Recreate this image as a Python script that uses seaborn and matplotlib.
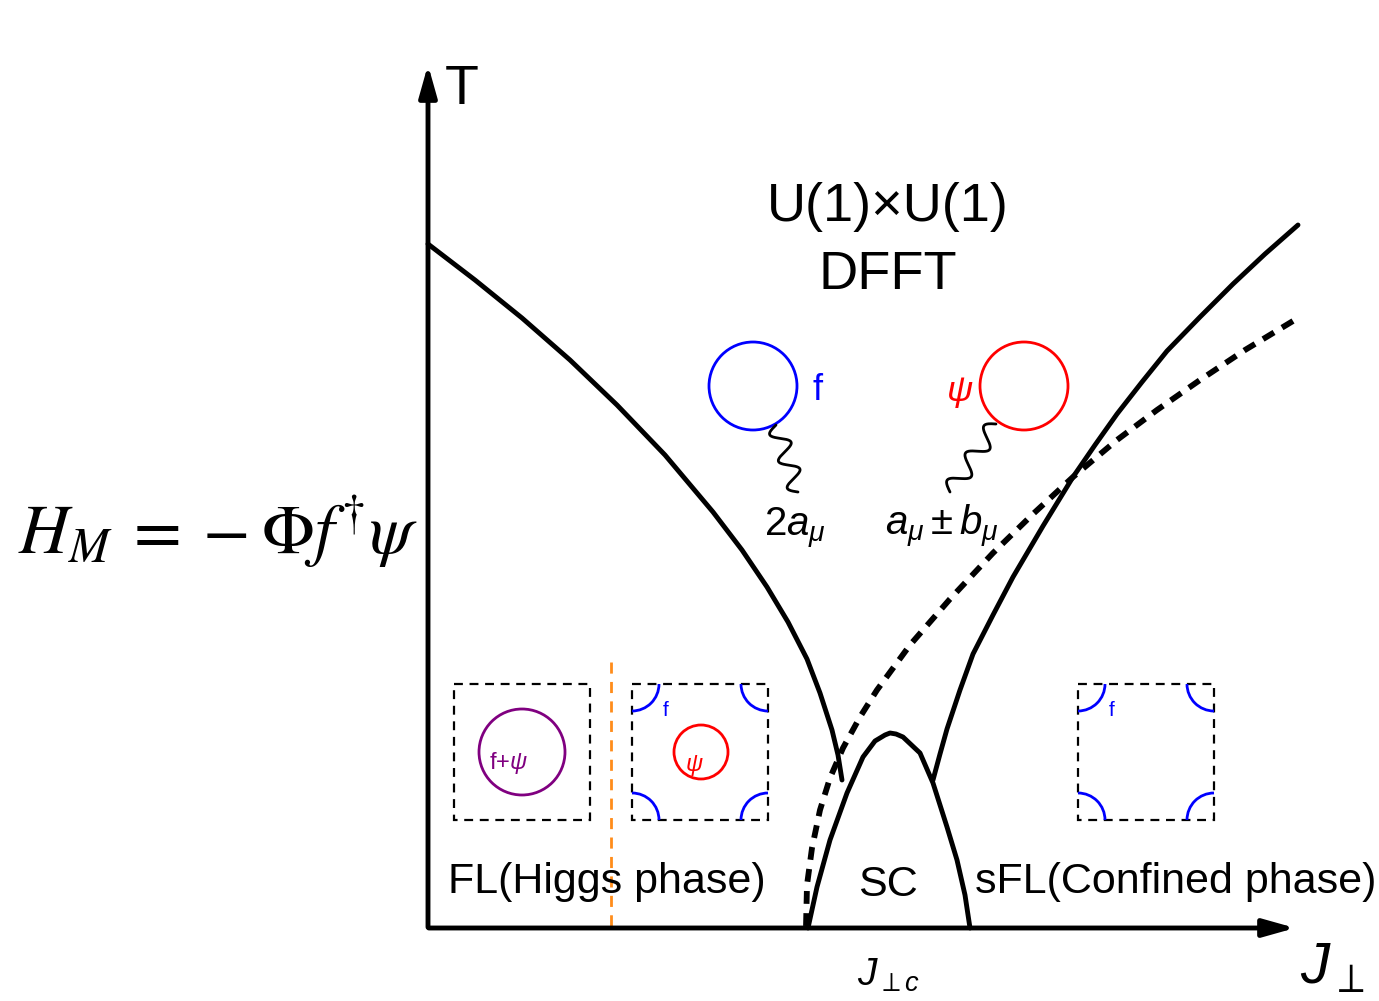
import numpy as np
import pandas as pd
import matplotlib
matplotlib.use("Agg")
import matplotlib.pyplot as plt
import seaborn as sns
from matplotlib.patches import Circle, Rectangle, Arc

# phase boundaries (pixel coordinates, y down)
left_x = [428, 475, 522, 570, 617, 665, 713, 742, 767, 788, 807, 820, 832, 838, 842]
left_y = [244, 280, 318, 360, 405, 455, 512, 550, 587, 622, 659, 693, 730, 755, 780]

right_x = [1298, 1265, 1233, 1200, 1167, 1142, 1117, 1095, 1073, 1043, 1013, 993, 973, 960, 947, 940, 933]
right_y = [225, 254, 284, 317, 351, 382, 414, 445, 477, 526, 577, 615, 654, 690, 729, 754, 780]

dot_x = [1293, 1245, 1200, 1157, 1117, 1073, 1033, 993, 950, 910, 877, 860, 843, 830, 820, 812, 807, 806]
dot_y = [321, 350, 380, 410, 440, 477, 514, 553, 599, 645, 690, 717, 748, 778, 810, 848, 885, 927]

sc_x = [808, 817, 830, 847, 863, 875, 885, 890, 896, 903, 920, 933, 947, 957, 965, 970]
sc_y = [928, 887, 840, 793, 757, 741, 735, 733, 734, 737, 753, 783, 827, 860, 895, 928]

orange_x = [611, 611]
orange_y = [662, 928]

sns.set_theme(style="white")
plt.rcParams['font.family'] = ['Liberation Sans', 'DejaVu Sans']
plt.rcParams['text.color'] = 'black'
plt.rcParams['mathtext.fontset'] = 'custom'
plt.rcParams['mathtext.rm'] = 'Liberation Sans'
plt.rcParams['mathtext.it'] = 'Liberation Sans:italic'

fig = plt.figure(figsize=(13.79, 10.01), dpi=100)
ax = fig.add_axes([0, 0, 1, 1])
ax.set_xlim(0, 1379)
ax.set_ylim(1001, 0)
ax.axis('off')

def curve(xs, ys, **kw):
    df = pd.DataFrame({'x': xs, 'y': ys})
    sns.lineplot(data=df, x='x', y='y', sort=False, ax=ax, **kw)

curve(left_x, left_y, color='black', lw=3.5)
curve(right_x, right_y, color='black', lw=3.5)
curve(sc_x, sc_y, color='black', lw=3.5)
curve(dot_x, dot_y, color='black', lw=4.2, linestyle=(0, (2.2, 1.6)))
ax.plot(orange_x, orange_y, color='#ff8c1a', lw=2, linestyle=(0, (4, 3)))

# axes with arrows
ax.annotate('', xy=(428, 62), xytext=(428, 930),
            arrowprops=dict(arrowstyle='-|>,head_length=1.6,head_width=0.45', color='black', lw=3.5))
ax.annotate('', xy=(1298, 928), xytext=(426, 928),
            arrowprops=dict(arrowstyle='-|>,head_length=1.6,head_width=0.45', color='black', lw=3.5))
ax.text(445, 90, 'T', fontsize=40, va='center', ha='left')
ax.text(1332, 968, r'$J_{\perp}$', fontsize=42, va='center', ha='center')
ax.text(888, 975, r'$J_{\perp c}$', fontsize=28, va='center', ha='center')

# big labels
ax.text(888, 207, 'U(1)×U(1)', fontsize=39, ha='center', va='center')
ax.text(888, 275, 'DFFT', fontsize=39, ha='center', va='center')
ax.text(448, 882, 'FL(Higgs phase)', fontsize=31, ha='left', va='center')
ax.text(888, 885, 'SC', fontsize=31, ha='center', va='center')
ax.text(975, 882, 'sFL(Confined phase)', fontsize=31, ha='left', va='center')
ax.text(18, 532, r'$H_M\:=\:-\:\Phi f^{\dagger}\psi$', fontsize=50, ha='left', va='center',
        math_fontfamily='stix')

# fermi surfaces up top
ax.add_patch(Circle((753, 386), 44, fill=False, ec='blue', lw=2))
ax.add_patch(Circle((1024, 386), 44, fill=False, ec='red', lw=2))
ax.text(818, 390, 'f', color='blue', fontsize=26, ha='center', va='center')
ax.text(960, 392, r'$\psi$', color='red', fontsize=26, ha='center', va='center')

def wiggle(x0, y0, x1, y1, n=2.5, amp=9):
    t = np.linspace(0, 1, 200)
    dx, dy = x1 - x0, y1 - y0
    L = np.hypot(dx, dy)
    nx, ny = -dy / L, dx / L
    s = amp * np.sin(2 * np.pi * n * t)
    ax.plot(x0 + dx * t + nx * s, y0 + dy * t + ny * s, color='black', lw=2)

wiggle(776, 425, 798, 492)
wiggle(996, 424, 950, 492)
ax.text(795, 527, r'$2a_{\mu}$', fontsize=29, ha='center', va='center')
ax.text(942, 527, r'$a_{\mu}\pm b_{\mu}$', fontsize=29, ha='center', va='center')

# dashed boxes with fermi surfaces
def box(x0, y0, w=136, h=136, corners=False):
    ax.add_patch(Rectangle((x0, y0), w, h, fill=False, ec='black', lw=1.6,
                           linestyle=(0, (4, 3))))
    if corners:
        r = 27
        ax.add_patch(Arc((x0, y0), 2 * r, 2 * r, theta1=0, theta2=90, color='blue', lw=2))
        ax.add_patch(Arc((x0 + w, y0), 2 * r, 2 * r, theta1=90, theta2=180, color='blue', lw=2))
        ax.add_patch(Arc((x0, y0 + h), 2 * r, 2 * r, theta1=270, theta2=360, color='blue', lw=2))
        ax.add_patch(Arc((x0 + w, y0 + h), 2 * r, 2 * r, theta1=180, theta2=270, color='blue', lw=2))
        ax.text(x0 + 34, y0 + 26, 'f', color='blue', fontsize=15, ha='center', va='center')

box(454, 684)
ax.add_patch(Circle((522, 752), 43, fill=False, ec='purple', lw=2))
ax.text(508, 763, r'f+$\psi$', color='purple', fontsize=17, ha='center', va='center')

box(632, 684, corners=True)
ax.add_patch(Circle((701, 752), 27, fill=False, ec='red', lw=2))
ax.text(694, 765, r'$\psi$', color='red', fontsize=17, ha='center', va='center')

box(1078, 684, corners=True)

fig.savefig('out.png', dpi=100)
